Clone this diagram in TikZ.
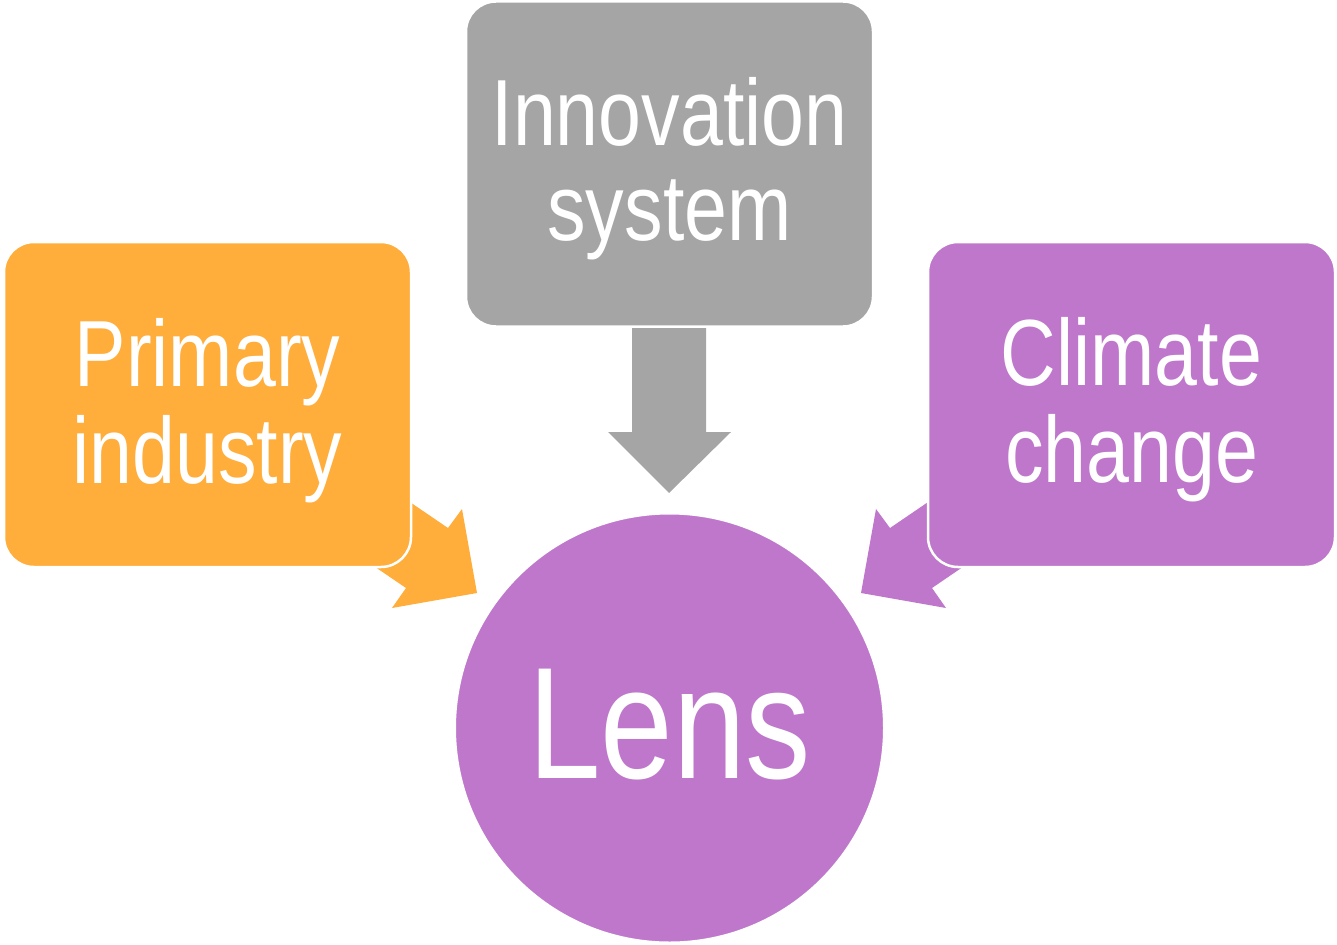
\documentclass[tikz,border=0pt]{standalone}
\usepackage{fontspec}
\setmainfont{Liberation Sans}[FakeStretch=0.82]
\definecolor{innogray}{HTML}{A5A5A5}
\definecolor{primorange}{HTML}{FFAD3B}
\definecolor{climpurple}{HTML}{BF77CC}
\begin{document}
\begin{tikzpicture}[
    x=1pt,y=-1pt,
    box/.style={rectangle,rounded corners=30pt,draw=white,line width=2.5pt,
        minimum width=407pt,minimum height=325pt},
    boxtext/.style={text=white,align=center,font=\fontsize{94}{97}\selectfont},
    lens/.style={circle,draw=white,line width=2pt,minimum size=429pt,inner sep=0pt,
        text=white,font=\fontsize{159}{160}\selectfont},
]
    \useasboundingbox (0,0) rectangle (1337,944);
    % block arrows behind the boxes
    \fill[primorange] (382,483) -- (448,528) -- (462,509) -- (477,593)
        -- (392,608) -- (406,588) -- (340,543) -- cycle;
    \fill[climpurple] (956,483) -- (890,528) -- (876,509) -- (861,593)
        -- (946,608) -- (932,588) -- (998,543) -- cycle;
    \fill[innogray] (632,328) -- (706,328) -- (706,432) -- (731,432)
        -- (669,493) -- (608,432) -- (632,432) -- cycle;
    % boxes
    \node[box,fill=innogray] (inno) at (669.5,164) {};
    \node[box,fill=primorange] (prim) at (207.5,404.5) {};
    \node[box,fill=climpurple] (clim) at (1131.5,404.5) {};
    \node[boxtext,font=\fontsize{94}{95}\selectfont] (inno-text) at ([yshift=-5pt]inno) {Innovation\\system};
    \node[boxtext] (prim-text) at ([yshift=-6pt]prim) {Primary\\industry};
    \node[boxtext] (clim-text) at ([yshift=-5pt]clim) {Climate\\change};
    \node[lens,fill=climpurple] (lens) at (669.5,728) {\raisebox{3pt}[\height][\depth]{Lens}};
\end{tikzpicture}
\end{document}
